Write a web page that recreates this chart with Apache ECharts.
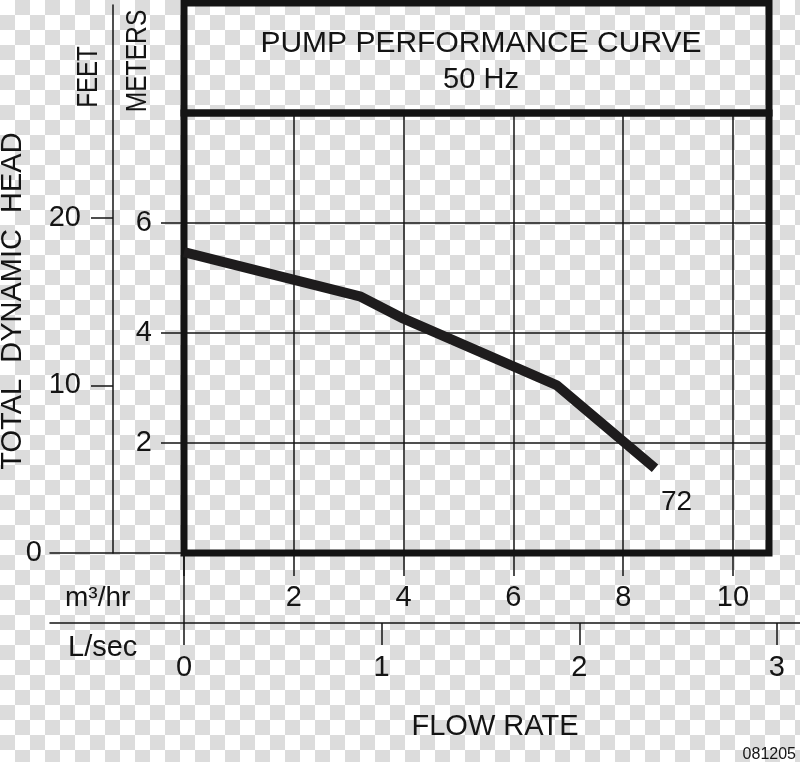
<!DOCTYPE html>
<html>
<head>
<meta charset="utf-8">
<script src="https://cdn.jsdelivr.net/npm/echarts@6/dist/echarts.min.js"></script>
<style>
html, body { margin: 0; padding: 0; }
body {
  width: 800px; height: 762px;
  background: repeating-conic-gradient(#dcdcdc 0 25%, #ffffff 0 50%) 0 0 / 30px 30px;
}
#chart { width: 800px; height: 762px; }
</style>
</head>
<body>
<div id="chart"></div>
<script>
// ---- data ----
const flowM3hr = [0, 3.22, 4.0, 6.79, 8.58];
const headMeters = [5.47, 4.66, 4.26, 3.05, 1.54];
const curveLabel = '72';

const m3hrTicks = [0, 2, 4, 6, 8, 10];
const lsecTicks = [0, 1, 2, 3];
const meterTicks = [2, 4, 6];
const feetTicks = [10, 20];
const feetZeroTick = [0];

const titleLines = ['PUMP PERFORMANCE CURVE', '50 Hz'];
const axisTexts = {
  head: 'TOTAL  DYNAMIC  HEAD',
  feet: 'FEET',
  meters: 'METERS',
  m3hr: 'm³/hr',
  lsec: 'L/sec',
  flow: 'FLOW RATE',
  code: '081205'
};

// ---- unit conversions ----
const M3HR_PER_LSEC = 3.6;
const FT_PER_M = 3.28084;

// ---- layout ----
const FONT = '"Liberation Sans", Arial, Helvetica, sans-serif';
const INK = '#141414';
const PX_PER_M3HR = 54.9;
const PX_PER_M = 55;
const plotLeft = 184, plotTop = 113, plotW = 585, plotH = 440;
const plotBottom = plotTop + plotH;
const lsecLeft = 50, lsecW = 750, lsecAxisY = 623;
const feetLeft = 50, feetTop = 5, feetAxisX = 113;

const pxPerLsec = PX_PER_M3HR * M3HR_PER_LSEC;
const pxPerFt = PX_PER_M / FT_PER_M;

const chart = echarts.init(document.getElementById('chart'), null, { renderer: 'canvas' });

const labelStyle = { color: INK, fontSize: 29, fontFamily: FONT };
const thin = { color: INK, width: 1.5 };
const noBounds = { outerBoundsMode: 'none', containLabel: false };

const curveData = flowM3hr.map((x, i) => [x, headMeters[i]]);
const feetMax = (plotBottom - feetTop) / pxPerFt;
const titleX = 481;

const option = {
  backgroundColor: 'transparent',
  animation: false,
  grid: [
    // 0: main plot
    { left: plotLeft, top: plotTop, width: plotW, height: plotH, show: true,
      borderWidth: 7, borderColor: INK, backgroundColor: 'transparent', ...noBounds },
    // 1: title box
    { left: plotLeft, top: 3, width: plotW, height: plotTop - 3, show: true,
      borderWidth: 7, borderColor: INK, backgroundColor: 'transparent', ...noBounds },
    // 2: L/sec scale
    { left: lsecLeft, top: plotBottom, width: lsecW, height: lsecAxisY - plotBottom, ...noBounds },
    // 3: feet scale (axis line at its left edge)
    { left: feetAxisX, top: feetTop, width: plotLeft - feetAxisX, height: plotBottom - feetTop, ...noBounds },
    // 4: feet zero baseline
    { left: feetLeft, top: feetTop, width: plotLeft - feetLeft, height: plotBottom - feetTop, ...noBounds }
  ],
  xAxis: [
    { gridIndex: 0, type: 'value', position: 'bottom', min: 0, max: plotW / PX_PER_M3HR, interval: 2,
      axisLine: { show: false },
      axisTick: { show: true, inside: false, length: 23, lineStyle: thin, customValues: m3hrTicks },
      axisLabel: { show: true, margin: 30, customValues: m3hrTicks.filter(v => v > 0), ...labelStyle },
      splitLine: { show: true, lineStyle: thin } },
    { gridIndex: 1, type: 'value', min: 0, max: 1, show: false },
    { gridIndex: 2, type: 'value', position: 'bottom',
      min: -(plotLeft - lsecLeft) / pxPerLsec, max: (lsecLeft + lsecW - plotLeft) / pxPerLsec,
      axisLine: { show: true, onZero: false, lineStyle: thin },
      axisTick: { show: true, inside: false, length: 22, lineStyle: thin, customValues: lsecTicks },
      axisLabel: { show: true, margin: 30, customValues: lsecTicks, ...labelStyle },
      splitLine: { show: false } },
    { gridIndex: 3, type: 'value', min: 0, max: 1, show: false },
    { gridIndex: 4, type: 'value', position: 'bottom', min: 0, max: 1,
      axisLine: { show: true, onZero: false, lineStyle: thin },
      axisTick: { show: false }, axisLabel: { show: false }, splitLine: { show: false } }
  ],
  yAxis: [
    { gridIndex: 0, type: 'value', position: 'left', min: 0, max: plotH / PX_PER_M, interval: 2,
      axisLine: { show: false },
      axisTick: { show: true, inside: false, length: 23, lineStyle: thin, customValues: meterTicks },
      axisLabel: { show: true, margin: 32, customValues: meterTicks, ...labelStyle },
      splitLine: { show: true, lineStyle: thin } },
    { gridIndex: 1, type: 'value', min: 0, max: 1, show: false },
    { gridIndex: 2, type: 'value', position: 'left', min: 0, max: 1,
      axisLine: { show: true, onZero: true, lineStyle: thin },
      axisTick: { show: false }, axisLabel: { show: false }, splitLine: { show: false } },
    { gridIndex: 3, type: 'value', position: 'left', min: 0, max: feetMax,
      axisLine: { show: true, onZero: false, lineStyle: thin },
      axisTick: { show: true, inside: false, length: 22, lineStyle: thin, customValues: feetTicks },
      axisLabel: { show: true, margin: 32, customValues: feetTicks, ...labelStyle },
      splitLine: { show: false } },
    { gridIndex: 4, type: 'value', position: 'left', min: 0, max: feetMax,
      axisLine: { show: false, onZero: false },
      axisTick: { show: false },
      axisLabel: { show: true, margin: 8, customValues: feetZeroTick, ...labelStyle },
      splitLine: { show: false } }
  ],
  series: [
    { type: 'line', xAxisIndex: 0, yAxisIndex: 0, data: curveData,
      showSymbol: false, symbol: 'none', smooth: false,
      lineStyle: { color: '#1e1c1d', width: 10, cap: 'butt', join: 'bevel' },
      endLabel: { show: true, formatter: curveLabel, distance: 0, offset: [6, 34],
        color: INK, fontSize: 28, fontFamily: FONT },
      emphasis: { disabled: true }, silent: true }
  ],
  graphic: [
    { type: 'text', x: titleX, y: 44,
      style: { text: titleLines[0], fill: INK, fontSize: 30, fontFamily: FONT, align: 'center', verticalAlign: 'middle' } },
    { type: 'text', x: titleX, y: 80,
      style: { text: titleLines[1], fill: INK, fontSize: 29, fontFamily: FONT, align: 'center', verticalAlign: 'middle' } },
    { type: 'text', x: 13, y: 301, rotation: Math.PI / 2,
      style: { text: axisTexts.head, fill: INK, fontSize: 29, fontFamily: FONT, align: 'center', verticalAlign: 'middle' } },
    { type: 'text', x: 89, y: 77, rotation: Math.PI / 2, scaleX: 0.83,
      style: { text: axisTexts.feet, fill: INK, fontSize: 29, fontFamily: FONT, align: 'center', verticalAlign: 'middle' } },
    { type: 'text', x: 138, y: 61, rotation: Math.PI / 2, scaleX: 0.85,
      style: { text: axisTexts.meters, fill: INK, fontSize: 29, fontFamily: FONT, align: 'center', verticalAlign: 'middle' } },
    { type: 'text', x: 65, y: 598,
      style: { text: axisTexts.m3hr, fill: INK, fontSize: 28, fontFamily: FONT, align: 'left', verticalAlign: 'middle' } },
    { type: 'text', x: 68, y: 648,
      style: { text: axisTexts.lsec, fill: INK, fontSize: 29, fontFamily: FONT, align: 'left', verticalAlign: 'middle' } },
    { type: 'text', x: 495, y: 727,
      style: { text: axisTexts.flow, fill: INK, fontSize: 29, fontFamily: FONT, align: 'center', verticalAlign: 'middle' } },
    { type: 'text', x: 796, y: 755,
      style: { text: axisTexts.code, fill: INK, fontSize: 16, fontFamily: FONT, align: 'right', verticalAlign: 'middle' } }
  ]
};

chart.setOption(option);
</script>
</body>
</html>
